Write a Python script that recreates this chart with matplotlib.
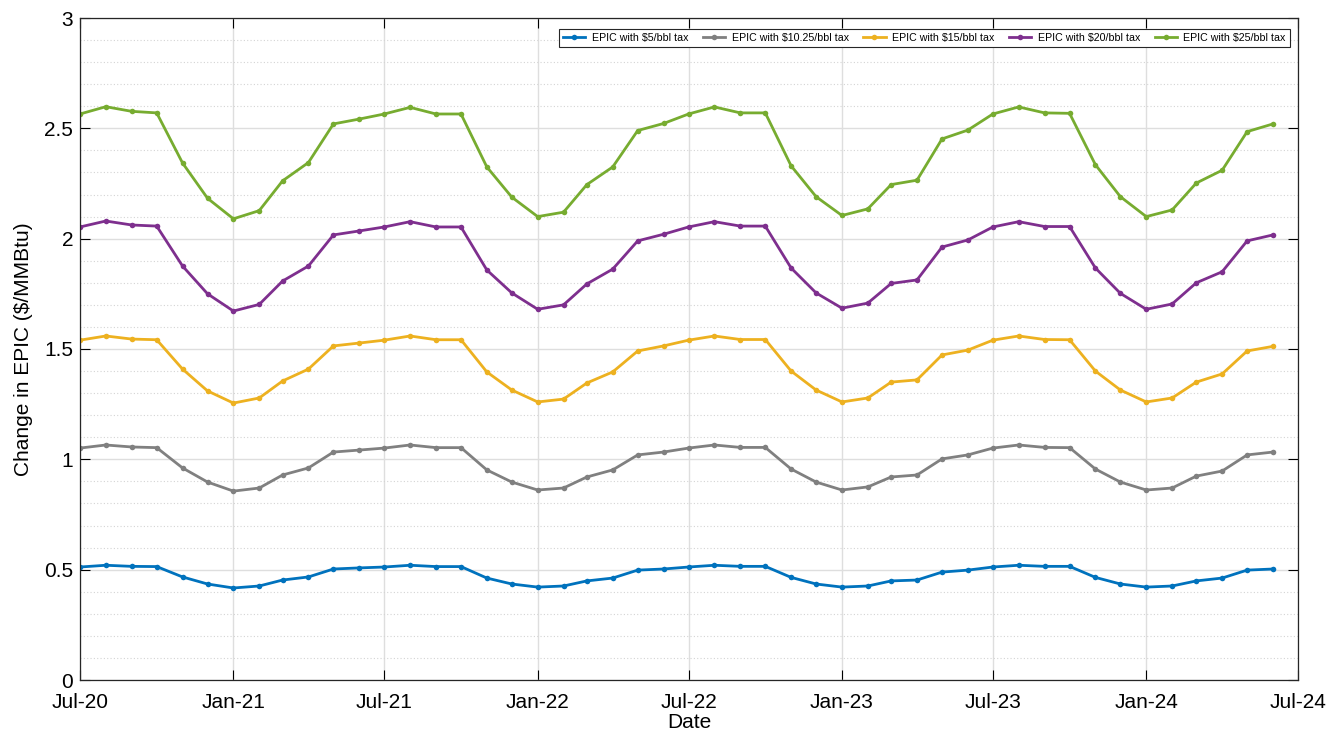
import numpy as np
import matplotlib
matplotlib.use("Agg")
import matplotlib.pyplot as plt
from matplotlib.ticker import MultipleLocator
import datetime as dt

plt.rcParams['font.family'] = ['Liberation Sans', 'DejaVu Sans']

# Monthly observations, Jul-2020 through Jun-2024
months = [dt.date(2020 + (6 + i) // 12, (6 + i) % 12 + 1, 1) for i in range(48)]

epic_5 = [0.512, 0.520, 0.515, 0.514, 0.467, 0.435, 0.417, 0.426, 0.453, 0.467, 0.503, 0.508,
          0.512, 0.520, 0.514, 0.514, 0.462, 0.435, 0.421, 0.426, 0.449, 0.462, 0.498, 0.503,
          0.512, 0.520, 0.515, 0.515, 0.465, 0.435, 0.421, 0.426, 0.449, 0.453, 0.489, 0.498,
          0.512, 0.520, 0.515, 0.515, 0.465, 0.435, 0.421, 0.426, 0.449, 0.462, 0.498, 0.503]

epic_10_25 = [1.051, 1.065, 1.056, 1.053, 0.961, 0.897, 0.856, 0.870, 0.929, 0.961, 1.033, 1.042,
              1.051, 1.065, 1.053, 1.053, 0.952, 0.897, 0.861, 0.870, 0.920, 0.952, 1.020, 1.033,
              1.051, 1.065, 1.054, 1.054, 0.956, 0.897, 0.861, 0.875, 0.920, 0.929, 1.002, 1.020,
              1.051, 1.065, 1.054, 1.053, 0.956, 0.897, 0.861, 0.870, 0.924, 0.947, 1.020, 1.033]

epic_15 = [1.540, 1.559, 1.545, 1.542, 1.409, 1.310, 1.255, 1.278, 1.355, 1.409, 1.514, 1.527,
           1.540, 1.559, 1.542, 1.542, 1.396, 1.314, 1.260, 1.273, 1.346, 1.396, 1.491, 1.514,
           1.540, 1.559, 1.543, 1.543, 1.400, 1.314, 1.260, 1.278, 1.350, 1.360, 1.473, 1.495,
           1.540, 1.559, 1.543, 1.542, 1.400, 1.314, 1.260, 1.278, 1.350, 1.387, 1.491, 1.512]

epic_20 = [2.053, 2.080, 2.062, 2.057, 1.876, 1.750, 1.672, 1.702, 1.808, 1.876, 2.017, 2.035,
           2.053, 2.077, 2.053, 2.053, 1.858, 1.754, 1.680, 1.700, 1.795, 1.862, 1.990, 2.020,
           2.053, 2.077, 2.057, 2.057, 1.867, 1.754, 1.685, 1.708, 1.797, 1.813, 1.962, 1.994,
           2.053, 2.077, 2.055, 2.055, 1.867, 1.752, 1.680, 1.704, 1.800, 1.850, 1.990, 2.017]

epic_25 = [2.565, 2.598, 2.577, 2.570, 2.343, 2.183, 2.090, 2.127, 2.262, 2.345, 2.520, 2.542,
           2.565, 2.595, 2.565, 2.565, 2.325, 2.188, 2.100, 2.120, 2.245, 2.325, 2.490, 2.522,
           2.565, 2.597, 2.570, 2.570, 2.330, 2.190, 2.105, 2.135, 2.245, 2.265, 2.452, 2.492,
           2.565, 2.597, 2.570, 2.568, 2.335, 2.190, 2.100, 2.130, 2.252, 2.310, 2.485, 2.520]

series = [
    ("EPIC with $5/bbl tax", epic_5, "#0072BD"),
    ("EPIC with $10.25/bbl tax", epic_10_25, "#808080"),
    ("EPIC with $15/bbl tax", epic_15, "#EDB120"),
    ("EPIC with $20/bbl tax", epic_20, "#7E2F8E"),
    ("EPIC with $25/bbl tax", epic_25, "#77AC30"),
]

x_ticks = [dt.date(2020, 7, 1), dt.date(2021, 1, 1), dt.date(2021, 7, 1), dt.date(2022, 1, 1),
           dt.date(2022, 7, 1), dt.date(2023, 1, 1), dt.date(2023, 7, 1), dt.date(2024, 1, 1),
           dt.date(2024, 7, 1)]
x_tick_labels = ["Jul-20", "Jan-21", "Jul-21", "Jan-22", "Jul-22", "Jan-23", "Jul-23", "Jan-24", "Jul-24"]
y_ticks = [0, 0.5, 1, 1.5, 2, 2.5, 3]
y_tick_labels = ["0", "0.5", "1", "1.5", "2", "2.5", "3"]

fig = plt.figure(figsize=(13.29, 7.35), dpi=100)
ax = fig.add_axes([80 / 1329, 1 - 680 / 735, 1218 / 1329, 662 / 735])

for label, vals, color in series:
    ax.plot(months, vals, color=color, lw=2.0, marker='o', markersize=4,
            markeredgewidth=0, label=label)

ax.set_xlim(dt.date(2020, 7, 1), dt.date(2024, 7, 1))
ax.set_ylim(0, 3)
ax.set_xticks(x_ticks, x_tick_labels)
ax.set_yticks(y_ticks, y_tick_labels)
ax.yaxis.set_minor_locator(MultipleLocator(0.1))

ax.grid(which='major', color='#dedede', lw=1.0)
ax.grid(which='minor', axis='y', color='#d4d4d4', lw=0.8, linestyle=(0, (1, 2)))
ax.set_axisbelow(True)

ax.tick_params(which='major', direction='in', length=7, width=0.8, labelsize=15,
               top=True, right=True, pad=5)
ax.tick_params(axis='x', which='major', pad=9)
ax.tick_params(which='minor', length=0)
for s in ax.spines.values():
    s.set_color('#262626')
    s.set_linewidth(0.9)

ax.set_xlabel("Date", fontsize=15, labelpad=1)
ax.set_ylabel("Change in EPIC ($/MMBtu)", fontsize=15, labelpad=8)

leg = ax.legend(loc='upper right', ncol=5, fontsize=7.7, frameon=True, fancybox=False,
                edgecolor='#262626', framealpha=1, borderpad=0.35, handlelength=2.1,
                columnspacing=1.35, handletextpad=0.6, bbox_to_anchor=(0.9975, 0.991))
leg.get_frame().set_linewidth(0.8)

fig.savefig("out.png", dpi=100)
